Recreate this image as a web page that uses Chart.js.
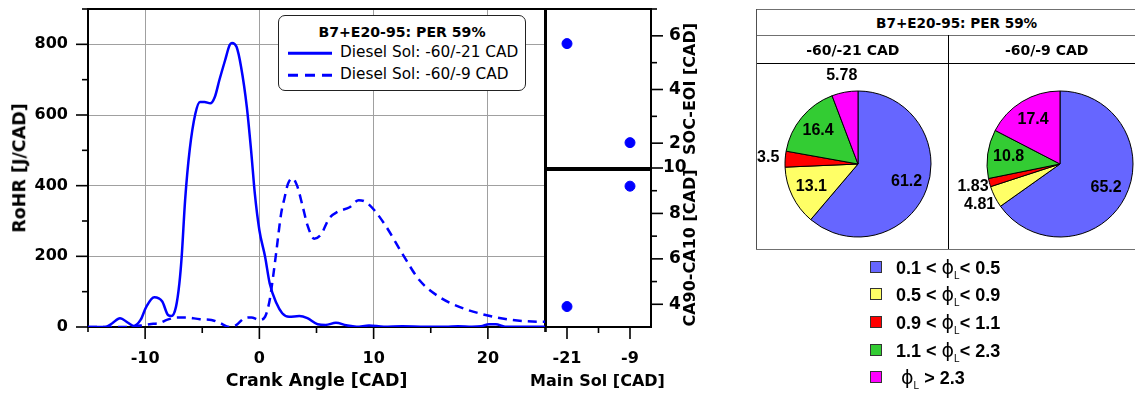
<!DOCTYPE html>
<html><head><meta charset="utf-8">
<script src="https://cdn.jsdelivr.net/npm/chart.js@4.4.1/dist/chart.umd.min.js"></script>
<style>
html,body{margin:0;padding:0;background:#fff;}
body{width:1135px;height:398px;position:relative;overflow:hidden;}
canvas{position:absolute;}
.t{position:absolute;white-space:nowrap;font-family:'DejaVu Sans',sans-serif;font-weight:bold;color:#000;line-height:1;transform:translate(-50%,-50%);z-index:5;}
.rot{transform:translate(-50%,-50%) rotate(-90deg);}
.hl{position:absolute;height:1px;z-index:4;}
.vl{position:absolute;width:1px;z-index:4;}
#lgbox{position:absolute;left:278px;top:15px;width:246px;height:74px;border:1.3px solid #222;border-radius:7px;background:#fff;z-index:6;}
#lgbox .ti{position:absolute;left:50%;top:16px;transform:translate(-50%,-50%);font-family:'DejaVu Sans',sans-serif;font-weight:bold;font-size:14.1px;white-space:nowrap;line-height:1;}
#lgbox .row{position:absolute;left:61px;transform:translateY(-50%);font-family:'DejaVu Sans',sans-serif;font-size:15.3px;white-space:nowrap;line-height:1;}
#lgbox .smp{position:absolute;left:8.5px;width:44px;height:2.5px;transform:translateY(-50%);}
.plg{position:absolute;left:870px;z-index:5;font-family:'Liberation Sans',Arial,sans-serif;font-weight:bold;font-size:18px;white-space:nowrap;line-height:1;}
.plg .sq{position:absolute;left:0;top:-6px;width:10px;height:10px;border:1px solid #333;}
.plg .tx{position:absolute;left:26px;top:0;transform:translateY(-50%);}
.plg .phi{font-family:'DejaVu Sans',sans-serif;font-weight:normal;font-size:19px;}
.plg sub{font-family:'Liberation Sans',Arial,sans-serif;font-weight:normal;font-size:10px;vertical-align:-5px;line-height:0;}
</style></head><body>
<canvas id="cMain" width="560" height="398" style="left:0;top:0;z-index:1"></canvas>
<canvas id="cSoc" width="170" height="176" style="left:540px;top:0;z-index:2"></canvas>
<canvas id="cCa" width="170" height="248" style="left:540px;top:150px;z-index:2"></canvas>
<canvas id="cPie21" width="240" height="240" style="left:738px;top:44px;z-index:3"></canvas>
<canvas id="cPie9" width="240" height="240" style="left:940px;top:44px;z-index:3"></canvas>

<div class="t rot" style="left:20px;top:168px;font-size:17.5px;">RoHR [J/CAD]</div>
<div class="t" style="left:316.5px;top:381px;font-size:17.4px;">Crank Angle [CAD]</div>
<div class="t" style="left:597.5px;top:381px;font-size:16px;">Main Sol [CAD]</div>
<div class="t rot" style="left:690px;top:88.5px;font-size:16px;">SOC-EOI [CAD]</div>
<div class="t rot" style="left:690px;top:247.5px;font-size:16px;">CA90-CA10 [CAD]</div>

<div id="lgbox">
  <div class="ti">B7+E20-95: PER 59%</div>
  <div class="smp" style="top:37px;background:#0000ff;"></div>
  <div class="row" style="top:37px;">Diesel Sol: -60/-21 CAD</div>
  <div class="smp" style="top:59px;background:repeating-linear-gradient(to right,#0000ff 0 10px,transparent 10px 17px);"></div>
  <div class="row" style="top:59px;">Diesel Sol: -60/-9 CAD</div>
</div>

<!-- pie table lines -->
<div class="hl" style="left:756px;top:8.5px;width:400px;background:#707070"></div>
<div class="hl" style="left:756px;top:34.5px;width:400px;background:#707070"></div>
<div class="hl" style="left:756px;top:62.5px;width:400px;background:#000"></div>
<div class="hl" style="left:756px;top:248.5px;width:400px;background:#707070"></div>
<div class="vl" style="left:755.5px;top:9px;height:240px;background:#505050"></div>
<div class="vl" style="left:948px;top:35px;height:214px;background:#000"></div>
<div class="t" style="left:956.7px;top:23.5px;font-size:13.6px;">B7+E20-95: PER 59%</div>
<div class="t" style="left:852.8px;top:50px;font-size:14px;">-60/-21 CAD</div>
<div class="t" style="left:1046.7px;top:50px;font-size:14px;">-60/-9 CAD</div>

<div id="pieLegend"></div>

<script>
// ---------------- DATA ----------------
const crankAngleSol21 = [-15,-14,-13.5,-12.9,-12.2,-11.5,-11.0,-10.4,-9.9,-9.2,-8.5,-8.0,-7.7,-7.3,-7.0,-6.8,-6.5,-6.1,-5.6,-5.2,-4.8,-4.3,-3.9,-3.5,-3.0,-2.6,-2.4,-2.0,-1.6,-1.1,-0.7,-0.4,0.0,0.5,0.9,1.5,2.0,2.6,3.5,4.2,5.1,5.8,6.7,7.6,8.5,9.6,10.9,12.5,14.5,16.3,17.4,18.6,19.4,20.1,20.7,21.5,23,25];
const rohrSol21 = [0,0,0,10,25,12,3,20,57,84,72,34,31,57,124,199,359,501,604,637,637,633,651,699,755,798,804,793,736,623,491,378,274,199,124,67,39,29,31,25,8,6,12,5,1,4,1,2,1,1,2,1,2,8,8,1,1,1];

const crankAngleSol9 = [-15,-12,-11.2,-10.4,-9.6,-8.7,-8.1,-7.2,-6.4,-5.2,-4.2,-3.5,-2.6,-2.0,-1.3,-0.7,0.0,0.5,0.9,1.2,1.5,1.9,2.2,2.5,2.9,3.3,3.8,4.2,4.8,5.4,6.1,6.85,7.9,8.7,9.3,10.05,11.1,12.5,14.0,15.7,17.5,19.8,22.1,24.6,25];
const rohrSol9 = [0,0,1,4,8,12,20,27,27,22,20,12,0,6,25,27,20,29,76,142,218,320,365,405,421,400,340,289,250,262,307,326,339,359,354,331,284,208,133,86,57,34,20,15,15];

const mainSol = [-21, -9];
const socEoi = [5.71, 2.02];
const ca90ca10 = [3.9, 9.2];

const crankTickLabels = [-10, 0, 10, 20];
const rohrTickLabels = [0, 200, 400, 600, 800];
const mainSolTicks = [-21, -15, -9];
const mainSolTickLabels = [-21, -9];
const socTickLabels = [2, 4, 6];
const caTickLabels = [4, 6, 8, 10];

const pieBinsLow = ['0.1', '0.5', '0.9', '1.1', null];
const pieBinsHigh = ['0.5', '0.9', '1.1', '2.3', '2.3'];
const pieCategories = ['0.1 < ϕL < 0.5', '0.5 < ϕL < 0.9', '0.9 < ϕL < 1.1', '1.1 < ϕL < 2.3', 'ϕL > 2.3'];
const pieSol21 = [61.2, 13.1, 3.5, 16.4, 5.78];
const pieSol9 = [65.2, 4.81, 1.83, 10.8, 17.4];
const pieColors = ['#6666ff', '#ffff66', '#ff0000', '#33cc33', '#ff00ff'];

// ---------------- HELPERS ----------------
const BLUE = '#0000ff';
const tickFont = {family: "'DejaVu Sans', sans-serif", weight: 'bold', size: 16};
const rightTickFont = {family: "'DejaVu Sans', sans-serif", weight: 'bold', size: 17};
const fixSize = (w, h) => s => {
  if (w !== null) s.width = w;
  if (h !== null) s.height = h;
  s.paddingTop = 0; s.paddingBottom = 0; s.paddingLeft = 0; s.paddingRight = 0;
};

const frameTicks = {
  id: 'frameTicks',
  beforeDatasetsDraw(chart, args, opts) {
    const ctx = chart.ctx, a = chart.chartArea;
    ctx.save();
    ctx.strokeStyle = '#000';
    ctx.lineWidth = 1.6;
    (opts.marks || []).forEach(m => {
      const s = chart.scales[m.scale];
      m.values.forEach(([v, len]) => {
        const p = s.getPixelForValue(v);
        ctx.beginPath();
        if (m.side === 'bottom') { ctx.moveTo(p, a.bottom); ctx.lineTo(p, a.bottom + len); }
        else if (m.side === 'left') { ctx.moveTo(a.left, p); ctx.lineTo(a.left - len, p); }
        else { ctx.moveTo(a.right, p); ctx.lineTo(a.right + len, p); }
        ctx.stroke();
      });
    });
    ctx.lineWidth = 2;
    ctx.strokeRect(a.left, a.top, a.right - a.left, a.bottom - a.top);
    ctx.restore();
  }
};

const pieLabels = {
  id: 'pieLabels',
  afterDatasetsDraw(chart) {
    const ctx = chart.ctx;
    const ds = chart.data.datasets[0];
    const meta = chart.getDatasetMeta(0);
    const total = ds.data.reduce((a, b) => a + b, 0);
    ctx.save();
    ctx.font = "bold 16px 'Liberation Sans', Arial, sans-serif";
    ctx.fillStyle = '#000';
    ctx.textAlign = 'center';
    ctx.textBaseline = 'middle';
    meta.data.forEach((arc, i) => {
      const p = arc.getProps(['x', 'y', 'startAngle', 'endAngle', 'outerRadius'], true);
      const mid = (p.startAngle + p.endAngle) / 2;
      const frac = ds.data[i] / total;
      const r = frac > 0.08 ? p.outerRadius * 0.71 : p.outerRadius + 17;
      ctx.fillText(String(ds.data[i]), p.x + Math.cos(mid) * r, p.y + Math.sin(mid) * r);
    });
    ctx.restore();
  }
};

const toXY = (xs, ys) => xs.map((x, i) => ({x, y: ys[i]}));

// ---------------- MAIN CHART ----------------
new Chart(document.getElementById('cMain'), {
  type: 'line',
  data: {
    datasets: [
      {label: 'Diesel Sol: -60/-21 CAD', data: toXY(crankAngleSol21, rohrSol21), borderColor: BLUE, borderWidth: 2.5, pointRadius: 0, cubicInterpolationMode: 'monotone', fill: false},
      {label: 'Diesel Sol: -60/-9 CAD', data: toXY(crankAngleSol9, rohrSol9), borderColor: BLUE, borderWidth: 2.5, borderDash: [9, 6], pointRadius: 0, cubicInterpolationMode: 'monotone', fill: false}
    ]
  },
  plugins: [frameTicks],
  options: {
    responsive: false, animation: false, devicePixelRatio: 1,
    layout: {padding: {left: 0, top: 9, right: 15, bottom: 0}},
    plugins: {
      legend: {display: false}, tooltip: {enabled: false},
      frameTicks: {marks: [
        {scale: 'x', side: 'bottom', values: [[-15,5],[-10,12],[-5,6],[0,12],[5,6],[10,12],[15,6],[20,12],[25,5]]},
        {scale: 'y', side: 'left', values: [[0,12],[100,6],[200,12],[300,6],[400,12],[500,6],[600,12],[700,6],[800,12],[900,6]]}
      ]}
    },
    scales: {
      x: {type: 'linear', min: -15, max: 25,
        afterFit: fixSize(null, 71),
        ticks: {stepSize: 5, autoSkip: false, maxRotation: 0, font: tickFont, color: '#000', padding: 22,
          callback: v => crankTickLabels.includes(v) ? String(v) : null},
        grid: {color: '#a0a0a0', lineWidth: 1, drawTicks: false}, border: {display: false}},
      y: {type: 'linear', min: 0, max: 900,
        afterFit: fixSize(88, null),
        ticks: {stepSize: 100, autoSkip: false, font: tickFont, color: '#000', padding: 20,
          callback: v => rohrTickLabels.includes(v) ? String(v) : null},
        grid: {color: '#a0a0a0', lineWidth: 1, drawTicks: false}, border: {display: false}}
    }
  }
});

// ---------------- SOC-EOI PANEL ----------------
new Chart(document.getElementById('cSoc'), {
  type: 'scatter',
  data: {datasets: [{data: toXY(mainSol, socEoi), backgroundColor: BLUE, borderColor: BLUE, pointRadius: 5, pointHoverRadius: 5}]},
  plugins: [frameTicks],
  options: {
    responsive: false, animation: false, devicePixelRatio: 1,
    layout: {padding: {left: 5, top: 9, right: 0, bottom: 0}},
    plugins: {legend: {display: false}, tooltip: {enabled: false},
      frameTicks: {marks: [{scale: 'y', side: 'right', values: [[2,12],[3,6],[4,12],[5,6],[6,12],[7,6]]}]}},
    scales: {
      x: {type: 'linear', min: -25, max: -5, display: false},
      y: {type: 'linear', position: 'right', min: 1, max: 7,
        afterFit: fixSize(59, null),
        ticks: {stepSize: 1, autoSkip: false, font: rightTickFont, color: '#000', padding: 18, crossAlign: 'center',
          callback: v => socTickLabels.includes(v) ? String(v) : null},
        grid: {display: false, drawTicks: false}, border: {display: false}}
    }
  }
});

// ---------------- CA90-CA10 PANEL ----------------
new Chart(document.getElementById('cCa'), {
  type: 'scatter',
  data: {datasets: [{data: toXY(mainSol, ca90ca10), backgroundColor: BLUE, borderColor: BLUE, pointRadius: 5, pointHoverRadius: 5}]},
  plugins: [frameTicks],
  options: {
    responsive: false, animation: false, devicePixelRatio: 1,
    layout: {padding: {left: 5, top: 18, right: 0, bottom: 0}},
    plugins: {legend: {display: false}, tooltip: {enabled: false},
      frameTicks: {marks: [
        {scale: 'y', side: 'right', values: [[4,12],[5,6],[6,12],[7,6],[8,12],[9,6],[10,12]]},
        {scale: 'x', side: 'bottom', values: [[-25,5],[-21,12],[-15,6],[-9,12]]}
      ]}},
    scales: {
      x: {type: 'linear', min: -25, max: -5,
        afterFit: fixSize(null, 71),
        afterBuildTicks: s => { s.ticks = mainSolTicks.map(v => ({value: v})); },
        ticks: {autoSkip: false, maxRotation: 0, font: tickFont, color: '#000', padding: 22,
          callback: v => mainSolTickLabels.includes(v) ? String(v) : null},
        grid: {display: false, drawTicks: false}, border: {display: false}},
      y: {type: 'linear', position: 'right', min: 3, max: 10,
        afterFit: fixSize(59, null),
        ticks: {stepSize: 1, autoSkip: false, font: rightTickFont, color: '#000', padding: 12, crossAlign: 'center',
          callback: v => caTickLabels.includes(v) ? String(v) : null},
        grid: {display: false, drawTicks: false}, border: {display: false}}
    }
  }
});

// ---------------- PIES ----------------
function makePie(id, values) {
  new Chart(document.getElementById(id), {
    type: 'pie',
    data: {labels: pieCategories, datasets: [{data: values, backgroundColor: pieColors, borderColor: '#000', borderWidth: 1, radius: 73}]},
    plugins: [pieLabels],
    options: {
      responsive: false, animation: false, devicePixelRatio: 1,
      layout: {padding: 0},
      plugins: {legend: {display: false}, tooltip: {enabled: false}}
    }
  });
}
makePie('cPie21', pieSol21);
makePie('cPie9', pieSol9);

// ---------------- PIE LEGEND (HTML) ----------------
const legendRowsY = [266.7, 294.2, 321.7, 349.5, 377.3];
const pl = document.getElementById('pieLegend');
pieCategories.forEach((c, i) => {
  const d = document.createElement('div');
  d.className = 'plg';
  d.style.top = legendRowsY[i] + 'px';
  const lo = pieBinsLow[i], hi = pieBinsHigh[i];
  const phi = '<span class="phi">ϕ</span><sub>L</sub>';
  const txt = lo !== null ? `${lo} &lt; ${phi}&lt; ${hi}` : `&nbsp;${phi} &gt; ${hi}`;
  d.innerHTML = `<span class="sq" style="background:${pieColors[i]}"></span><span class="tx">${txt}</span>`;
  pl.appendChild(d);
});
</script>
</body></html>
